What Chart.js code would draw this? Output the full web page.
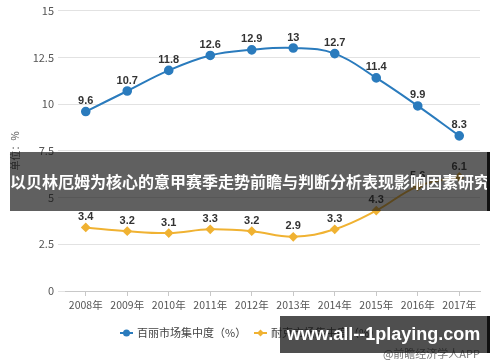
<!DOCTYPE html>
<html>
<head>
<meta charset="utf-8">
<script src="https://cdn.jsdelivr.net/npm/chart.js@4/dist/chart.umd.min.js"></script>
<style>
  body { margin: 0; background: #fff; }
  #wrap { position: relative; width: 500px; height: 362px; overflow: hidden; }
  #banner {
    position: absolute; left: 10px; top: 152px; width: 477px; height: 59px;
    background: rgba(20, 20, 20, 0.68); border-right: 3px solid #111;
    color: #fff; font: bold 16px "Noto Sans CJK SC", sans-serif;
    line-height: 59px; white-space: nowrap; overflow: hidden;
  }
  #source {
    position: absolute; right: 20px; top: 345px;
    color: #777; font: 11px "Noto Sans CJK SC", sans-serif;
  }
  #mark {
    position: absolute; left: 280px; top: 316px; width: 207px; height: 37px;
    background: rgba(20, 20, 20, 0.75); border-right: 3px solid #111;
    color: #fff; font: bold 18px "Liberation Sans", Arial, sans-serif;
    line-height: 37px; text-align: center;
  }
</style>
</head>
<body>
<div id="wrap">
  <canvas id="chart" width="500" height="362"></canvas>
  <div id="banner">以贝林厄姆为核心的意甲赛季走势前瞻与判断分析表现影响因素研究</div>
  <div id="source">@前瞻经济学人APP</div>
  <div id="mark">www.all--1playing.com</div>
</div>
<script>
// --- DATA ---
const years = ['2008年', '2009年', '2010年', '2011年', '2012年', '2013年', '2014年', '2015年', '2016年', '2017年'];
const belleShare = [9.6, 10.7, 11.8, 12.6, 12.9, 13, 12.7, 11.4, 9.9, 8.3];
const nikeShare = [3.4, 3.2, 3.1, 3.3, 3.2, 2.9, 3.3, 4.3, 5.6, 6.1];
const seriesNames = ['百丽市场集中度（%）', '耐克市场集中度（%）'];

const BLUE = '#2a7bbd';
const GOLD = '#f0b232';

// value labels above every point
const valueLabels = {
    id: 'valueLabels',
    afterDatasetsDraw(chart) {
        const ctx = chart.ctx;
        ctx.save();
        ctx.font = 'bold 11px "Liberation Sans", Arial, sans-serif';
        ctx.fillStyle = '#333';
        ctx.textAlign = 'center';
        ctx.textBaseline = 'bottom';
        chart.data.datasets.forEach((ds, i) => {
            chart.getDatasetMeta(i).data.forEach((pt, j) => {
                ctx.fillText(ds.data[j], pt.x, pt.y - 5);
            });
        });
        ctx.restore();
    }
};

// legend with line + marker, like the original
const lineLegend = {
    id: 'lineLegend',
    afterDraw(chart) {
        const ctx = chart.ctx;
        const y = 333;
        const items = [
            { x: 120, color: BLUE, style: 'circle', r: 3.5 },
            { x: 254, color: GOLD, style: 'rectRot', r: 3.5 }
        ];
        ctx.save();
        items.forEach((it, i) => {
            ctx.strokeStyle = it.color;
            ctx.lineWidth = 2;
            ctx.beginPath();
            ctx.moveTo(it.x, y);
            ctx.lineTo(it.x + 13, y);
            ctx.stroke();
            ctx.fillStyle = it.color;
            Chart.helpers.drawPoint(ctx, { pointStyle: it.style, radius: it.r, borderWidth: 0 }, it.x + 6.5, y);
            ctx.fillStyle = '#444';
            ctx.font = '11px "Noto Sans CJK SC", sans-serif';
            ctx.textAlign = 'left';
            ctx.textBaseline = 'middle';
            ctx.fillText(seriesNames[i], it.x + 17, y);
        });
        ctx.restore();
    }
};

new Chart(document.getElementById('chart'), {
    type: 'line',
    data: {
        labels: years,
        datasets: [{
            label: seriesNames[0],
            data: belleShare,
            borderColor: BLUE,
            backgroundColor: BLUE,
            borderWidth: 2,
            pointRadius: 3.8,
            pointStyle: 'circle',
            tension: 0.4
        }, {
            label: seriesNames[1],
            data: nikeShare,
            borderColor: GOLD,
            backgroundColor: GOLD,
            borderWidth: 2,
            pointRadius: 3.5,
            pointStyle: 'rectRot',
            tension: 0.4
        }]
    },
    options: {
        responsive: false,
        animation: false,
        layout: { padding: { left: 0, right: 20, top: 8, bottom: 49 } },
        plugins: {
            legend: { display: false },
            tooltip: { enabled: false }
        },
        scales: {
            x: {
                offset: true,
                border: { color: '#c8c8c8' },
                grid: { offset: false, drawOnChartArea: false, tickLength: 5, color: '#c8c8c8' },
                ticks: { color: '#555', padding: 3, font: { size: 10.5, family: '"Noto Sans CJK SC", sans-serif' } },
                afterFit: (s) => { s.height = 22; }
            },
            y: {
                min: 0,
                max: 15,
                border: { display: false },
                grid: { color: '#e2e2e2', tickLength: 7 },
                ticks: { stepSize: 2.5, color: '#555', padding: 4, font: { size: 11, family: '"Noto Sans CJK SC", sans-serif' } },
                title: { display: true, text: '单位：%', color: '#555', padding: { top: 9, bottom: 0 }, font: { size: 10, family: '"Noto Sans CJK SC", sans-serif' } },
                afterFit: (s) => { s.width = 65; }
            }
        }
    },
    plugins: [valueLabels, lineLegend]
});
</script>
</body>
</html>
